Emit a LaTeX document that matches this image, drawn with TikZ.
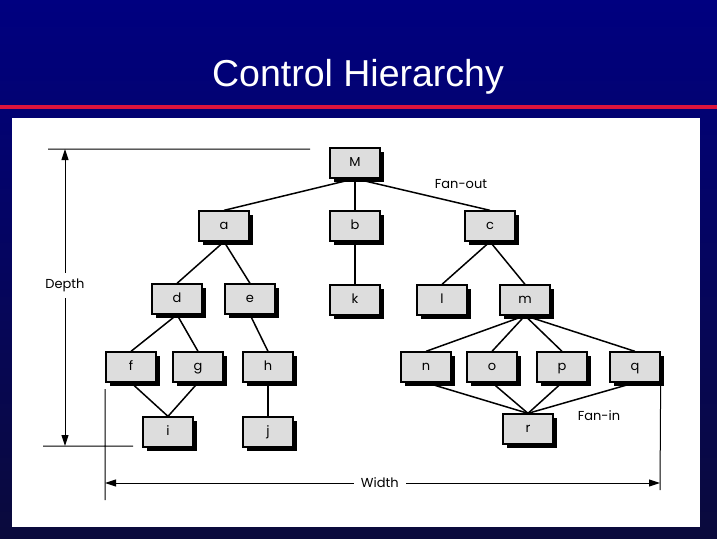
\documentclass[tikz,border=0pt]{standalone}
\usepackage{fontspec}
\setmainfont{Poppins}
\newfontfamily\titlefont{Liberation Sans}
\usetikzlibrary{shadows,arrows.meta}
\definecolor{slidenavy}{RGB}{0,0,128}
\definecolor{slidedark}{RGB}{10,10,60}
\definecolor{slidered}{RGB}{220,20,60}
\definecolor{boxgray}{RGB}{221,221,221}
\tikzset{
  module/.style={draw=black, line width=1.3pt, fill=boxgray, minimum width=50pt,
    minimum height=30pt, inner sep=0pt, text height=9pt, text depth=2pt,
    font=\fontsize{13}{15}\selectfont,
    drop shadow={shadow xshift=3.5pt, shadow yshift=-3.5pt, opacity=1, fill=black}},
  link/.style={line width=1.5pt},
  dimline/.style={line width=1pt},
  tag/.style={font=\fontsize{13}{15}\selectfont, fill=white, inner xsep=7pt, inner ysep=4pt},
  tip/.tip={Triangle[length=11pt,width=7pt]},
}
\begin{document}
\begin{tikzpicture}[x=1pt,y=-1pt]
            \useasboundingbox (0,0) rectangle (717,538);
            % slide
            \shade[top color=slidenavy, bottom color=slidedark] (0,0) rectangle (717,538);
            \fill[slidered] (0,105) rectangle (717,109);
            \fill[white] (12,118) rectangle (700,527);
            \node[anchor=base, text=white, font=\titlefont\fontsize{37.5}{40}\selectfont] (title) at (358,86) {Control Hierarchy};
            % modules
            \node[module] (M) at (355,163) {M};
            \node[module] (a) at (224,226) {a};
            \node[module] (b) at (355,226) {b};
            \node[module] (c) at (490,226) {c};
            \node[module] (d) at (177,299) {d};
            \node[module] (e) at (250,299) {e};
            \node[module] (k) at (355,300) {k};
            \node[module] (l) at (442,300) {l};
            \node[module] (m) at (525,300) {m};
            \node[module] (f) at (131,367) {f};
            \node[module] (g) at (198,367) {g};
            \node[module] (h) at (268,367) {h};
            \node[module] (n) at (426,367) {n};
            \node[module] (o) at (492,367) {o};
            \node[module] (p) at (562,367) {p};
            \node[module] (q) at (635,367) {q};
            \node[module] (i) at (168,432) {i};
            \node[module] (j) at (268,432) {j};
            \node[module] (r) at (528,429) {r};
            % calls
            \foreach \up/\down in {M/a, M/b, M/c, a/d, a/e, b/k, c/l, c/m, d/f, d/g, e/h,
                m/n, m/o, m/p, m/q, f/i, g/i, h/j, n/r, o/r, p/r, q/r}
                \draw[link] (\up.south) -- (\down.north);
            \node[font=\fontsize{13}{15}\selectfont] (fanout) at (461,184) {Fan-out};
            \node[font=\fontsize{13}{15}\selectfont] (fanin) at (599,416) {Fan-in};
            % depth and width
            \coordinate (dtop) at (65,149);
            \coordinate (dbot) at (65,446);
            \coordinate (wleft) at (105,483);
            \coordinate (wright) at (660,483);
            \draw[dimline] (48,149) -- (310,149) (43,446) -- (133,446)
                (105,389) -- (105,500) (q.south east) -- (660,490);
            \draw[dimline, tip-tip] (dtop) -- node[tag, pos=0.46, inner xsep=2pt, inner ysep=6pt] {Depth} (dbot);
            \draw[dimline, tip-tip] (wleft) -- node[tag, pos=0.495] {Width} (wright);
        \end{tikzpicture}
\end{document}
